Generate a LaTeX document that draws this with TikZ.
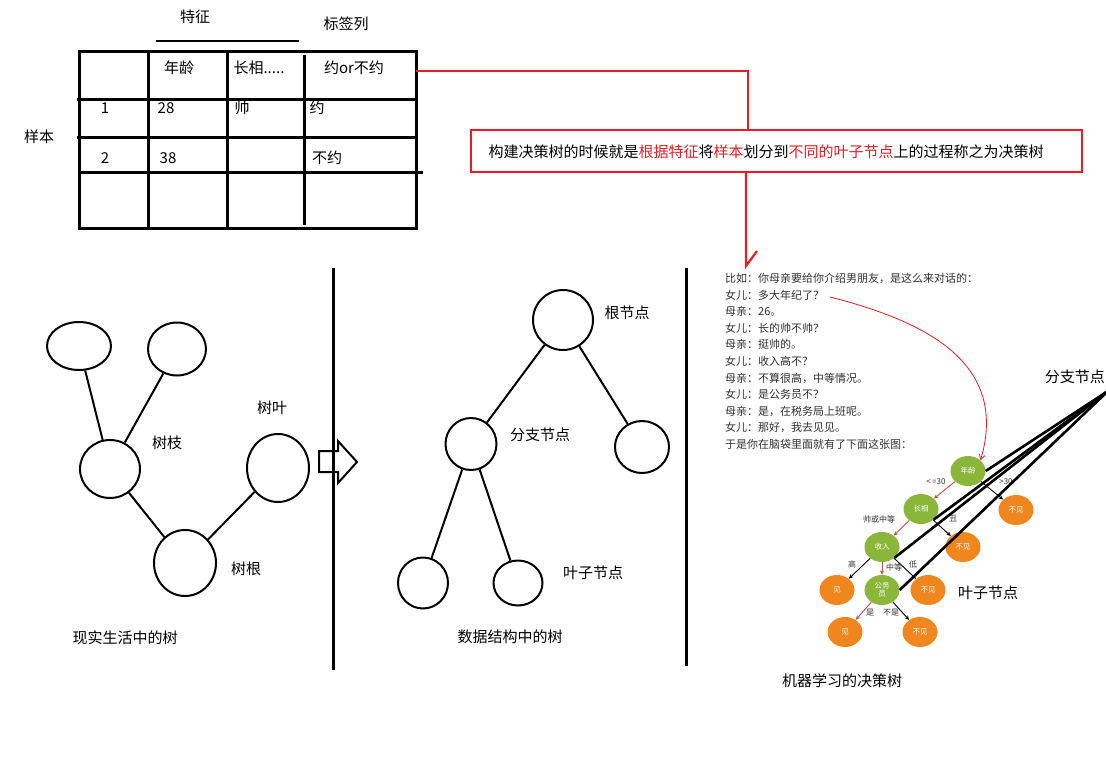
\documentclass[tikz,border=0pt]{standalone}
\usepackage{fontspec}
\setmainfont{Noto Sans CJK SC}
\usetikzlibrary{shapes.geometric,arrows.meta}
\definecolor{hl}{RGB}{237,28,36}
\definecolor{dtgreen}{RGB}{138,183,58}
\definecolor{dtorange}{RGB}{240,134,30}
\definecolor{dtred}{RGB}{192,80,77}
\definecolor{dlg}{RGB}{50,50,50}
\begin{document}
\begin{tikzpicture}[x=1pt,y=-1pt,
  lbl/.style={font=\fontsize{15}{18}\selectfont, inner sep=0},
  tline/.style={line width=3pt},
  circ/.style={draw, ellipse, line width=2pt, inner sep=0},
  tedge/.style={line width=2pt},
  redl/.style={draw=hl, line width=2.2pt},
  dtn/.style={ellipse, inner sep=0, minimum width=35pt, minimum height=30pt, text=white, font=\fontsize{7.5}{8}\selectfont, align=center},
  gn/.style={dtn, fill=dtgreen},
  on/.style={dtn, fill=dtorange},
  dlab/.style={font=\fontsize{8}{9}\selectfont, text=dlg, inner sep=0},
  dta/.style={line width=0.9pt, -{Stealth[length=4.5pt,width=4pt]}},
  hubl/.style={line width=2.6pt, black}
]
\fill[white] (0,0) rectangle (1106,768);
\useasboundingbox (0,0) rectangle (1106,768);

% ---------- table ----------
\draw[tline] (79,52) rectangle (416,228);
\draw[tline] (148,52) -- (148,228);
\draw[tline] (227,50) -- (227,228);
\draw[tline] (304,55) -- (304,225);
\draw[tline] (77,99) -- (415,99);
\draw[tline] (77,137) -- (418,137);
\draw[tline] (79,172) -- (423,172);
\draw[line width=2.5pt] (156,41) -- (299,41);

\node[lbl] (tz) at (195,17) {特征};
\node[lbl] (bq) at (346,24) {标签列};
\node[lbl] (h1) at (179,68) {年龄};
\node[lbl] (h2) at (259,68) {长相.....};
\node[lbl] (h3) at (354,68) {约or不约};
\node[lbl] (r1a) at (105,108) {1};
\node[lbl] (r1b) at (166,108) {28};
\node[lbl] (r1c) at (242,108) {帅};
\node[lbl] (r1d) at (317,108) {约};
\node[lbl] (yb) at (39,137) {样本};
\node[lbl] (r2a) at (105,158) {2};
\node[lbl] (r2b) at (168,158) {38};
\node[lbl] (r2d) at (327,158) {不约};

% ---------- red box and connector ----------
\node[redl, minimum width=611pt, minimum height=42pt, inner sep=0] (rbox) at (776.5,151) {};
\node[lbl] (rtext) at (766,152) {构建决策树的时候就是\textcolor{hl}{根据特征}将\textcolor{hl}{样本}划分到\textcolor{hl}{不同的叶子节点}上的过程称之为决策树};
\coordinate (tbl) at (416,71);
\coordinate (k1) at (748,71);
\coordinate (k2) at (746,266);
\draw[hl, line width=2.2pt] (tbl) -- (k1) -- (k1 |- rbox.north);
\draw[hl, line width=2.2pt] (k2 |- rbox.south) -- (k2) -- ++(11,-15);

% ---------- dividers and hollow arrow ----------
\draw[line width=3pt] (333,268) -- (333,670);
\draw[line width=3pt] (686,268) -- (686,666);
\draw[line width=2pt] (319,451) -- (338,451) -- (338,441) -- (357,462) -- (338,483) -- (338,472) -- (319,472) -- cycle;

% ---------- real-life tree ----------
\node[circ, minimum width=64pt, minimum height=48pt] (e1) at (79,346) {};
\node[circ, minimum width=58pt, minimum height=53pt] (e2) at (177,349) {};
\node[circ, minimum width=60pt, minimum height=58pt] (e3) at (110,469) {};
\node[circ, minimum width=62pt, minimum height=68pt] (e4) at (278,468) {};
\node[circ, minimum width=62pt, minimum height=66pt] (e5) at (185,563) {};
\draw[tedge] (e1) -- (e3);
\draw[tedge] (e2) -- (e3);
\draw[tedge] (e3) -- (e5);
\draw[tedge] (e4) -- (e5);
\node[lbl] (lsz) at (167,443) {树枝};
\node[lbl] (lsy) at (272,408) {树叶};
\node[lbl] (lsg) at (246,569) {树根};
\node[lbl] (lt1) at (125,638) {现实生活中的树};

% ---------- data-structure tree ----------
\node[circ, minimum size=60pt] (m1) at (563,320) {};
\node[circ, minimum width=51pt, minimum height=52pt] (m2) at (471,444) {};
\node[circ, minimum width=54pt, minimum height=52pt] (m3) at (642,447) {};
\node[circ, minimum width=50pt, minimum height=51pt] (m4) at (423,583) {};
\node[circ, minimum width=49pt, minimum height=45pt] (m5) at (518,583) {};
\draw[tedge] (m1) -- (m2);
\draw[tedge] (m1) -- (m3);
\draw[tedge] (m2) -- (m4);
\draw[tedge] (m2) -- (m5);
\node[lbl] (lgj) at (627,313) {根节点};
\node[lbl] (lfz) at (540,435) {分支节点};
\node[lbl] (lyz) at (593,573) {叶子节点};
\node[lbl] (lt2) at (510,637) {数据结构中的树};

% ---------- dialogue ----------
\node[anchor=north west, inner sep=0, align=left, text=dlg, font=\fontsize{11}{16.6}\selectfont] (dlg) at (725,273) {比如：你母亲要给你介绍男朋友，是这么来对话的：\\
女儿：多大年纪了？\\
母亲：26。\\
女儿：长的帅不帅？\\
母亲：挺帅的。\\
女儿：收入高不？\\
母亲：不算很高，中等情况。\\
女儿：是公务员不？\\
母亲：是，在税务局上班呢。\\
女儿：那好，我去见见。\\
于是你在脑袋里面就有了下面这张图：};

% ---------- decision tree ----------
\node[gn] (d1) at (968,471) {年龄};
\node[gn] (d2) at (921,509) {长相};
\node[gn] (d3) at (882,547) {收入};
\node[gn] (d4) at (882,590) {公务\\员};
\node[on] (o1) at (1016,510) {不见};
\node[on] (o2) at (963,547) {不见};
\node[on] (o3) at (837,590) {见};
\node[on] (o4) at (928,590) {不见};
\node[on] (o5) at (845,632) {见};
\node[on] (o6) at (920,632) {不见};
\draw[dta, dtred] (d1) -- (d2);
\draw[dta] (d1) -- (o1);
\draw[dta, dtred] (d2) -- (d3);
\draw[dta] (d2) -- (o2);
\draw[dta] (d3) -- (o3);
\draw[dta, dtred] (d3) -- (d4);
\draw[dta] (d3) -- (o4);
\draw[dta, dtred] (d4) -- (o5);
\draw[dta] (d4) -- (o6);
\node[dlab] (q1) at (936,482) {<\,=30};
\node[dlab] (q2) at (1006,482) {>30};
\node[dlab] (q3) at (879,519) {帅或中等};
\node[dlab] (q4) at (953,519) {丑};
\node[dlab] (q5) at (852,564) {高};
\node[dlab] (q6) at (894,567) {中等};
\node[dlab] (q7) at (913,564) {低};
\node[dlab] (q8) at (870,613) {是};
\node[dlab] (q9) at (891,613) {不是};

% red curved arrow from dialogue to root
\coordinate (cs) at (830,297);
\draw[hl, line width=0.8pt, -{Straight Barb[length=5pt,width=6pt]}] (cs) .. controls (920,320) and (1010,360) .. (d1.north east);

% hub lines
\coordinate (hub) at (1108,391);
\draw[hubl] (hub) -- (d1.east);
\draw[hubl] (hub) -- (d2.south east);
\draw[hubl] (hub) -- (d3.south east);
\draw[hubl] (hub) -- (d4.east);

\node[lbl, anchor=east] (lfz2) at (1105,377) {分支节点};
\node[lbl] (lyz2) at (988,593) {叶子节点};
\node[lbl] (lt3) at (842,681) {机器学习的决策树};
\end{tikzpicture}
\end{document}
